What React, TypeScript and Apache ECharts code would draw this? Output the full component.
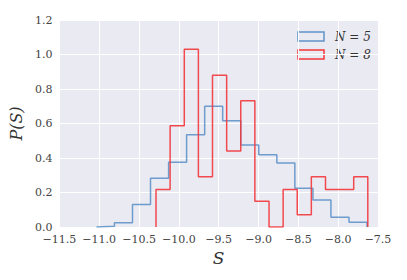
import React, { useEffect, useRef } from "react";
import * as echarts from "echarts";

// Histogram N = 5 (bin edges and densities)
const edgesN5 = [-11.035, -10.809, -10.582, -10.356, -10.129, -9.903, -9.676, -9.45, -9.223, -8.997, -8.77, -8.544, -8.317, -8.091, -7.864, -7.638];
const valuesN5 = [0.004, 0.025, 0.13, 0.282, 0.375, 0.535, 0.70, 0.616, 0.475, 0.419, 0.371, 0.224, 0.157, 0.056, 0.027];

// Histogram N = 8
const edgesN8 = [-10.287, -10.11, -9.932, -9.755, -9.578, -9.4, -9.223, -9.046, -8.868, -8.691, -8.514, -8.337, -8.159, -7.982, -7.805, -7.628];
const valuesN8 = [0.218, 0.587, 1.03, 0.292, 0.879, 0.44, 0.732, 0.149, 0.0, 0.218, 0.071, 0.292, 0.218, 0.218, 0.292];

const seriesNames = ["N = 5", "N = 8"];
const colors = ["#5f93c9", "#f2373c"];

const xTicks = { min: -11.5, max: -7.5, interval: 0.5 };
const yTicks = { min: 0, max: 1.2, interval: 0.2 };

function stepOutline(edges: number[], values: number[]): number[][] {
  const pts: number[][] = [[edges[0], 0]];
  for (let i = 0; i < values.length; i++) {
    pts.push([edges[i], values[i]]);
    pts.push([edges[i + 1], values[i]]);
  }
  pts.push([edges[edges.length - 1], 0]);
  return pts;
}

const FONT = "DejaVu Serif";

export default function App() {
  const ref = useRef<HTMLDivElement>(null);
  useEffect(() => {
    document.body.style.margin = "0";
    if (!ref.current) return;
    const chart = echarts.init(ref.current, undefined, { renderer: "svg" });
    const fmt = (v: number) => {
      const s = Math.abs(v).toFixed(1);
      return v < 0 ? "\u2212" + s : s;
    };
    chart.setOption({
      animation: false,
      backgroundColor: "#ffffff",
      textStyle: { fontFamily: FONT },
      grid: {
        left: 57,
        right: 29,
        top: 20,
        bottom: 53,
        show: true,
        backgroundColor: "#EAEAF2",
        borderWidth: 0,
      },
      xAxis: {
        type: "value",
        min: xTicks.min,
        max: xTicks.max,
        interval: xTicks.interval,
        axisLine: { show: false },
        axisTick: { show: false },
        splitLine: { show: true, lineStyle: { color: "#ffffff", width: 1 } },
        axisLabel: {
          formatter: fmt,
          color: "#444",
          fontFamily: FONT,
          fontSize: 11,
          margin: 7,
          showMinLabel: true,
          showMaxLabel: true,
        },
        name: "S",
        nameLocation: "middle",
        nameGap: 22,
        nameTextStyle: { fontFamily: FONT, fontStyle: "italic", fontSize: 17, color: "#333" },
      },
      yAxis: {
        type: "value",
        min: yTicks.min,
        max: yTicks.max,
        interval: yTicks.interval,
        axisLine: { show: false },
        axisTick: { show: false },
        splitLine: { show: true, lineStyle: { color: "#ffffff", width: 1 } },
        axisLabel: {
          formatter: (v: number) => v.toFixed(1),
          color: "#444",
          fontFamily: FONT,
          fontSize: 11,
          margin: 7,
        },
        name: "P(S)",
        nameLocation: "middle",
        nameGap: 25,
        nameTextStyle: {
          fontFamily: FONT,
          fontStyle: "italic",
          fontSize: 16,
          color: "#333",
        },
      },
      graphic: [
        { type: "rect", shape: { x: 298, y: 32, width: 26, height: 9 }, style: { fill: "none", stroke: colors[0], lineWidth: 1.5 } },
        { type: "rect", shape: { x: 298, y: 50, width: 26, height: 9 }, style: { fill: "none", stroke: colors[1], lineWidth: 1.5 } },
        {
          type: "text",
          x: 335,
          y: 37,
          style: {
            text: "N = 5",
            font: "italic 12px DejaVu Serif",
            fill: "#333",
            verticalAlign: "middle",
          },
        },
        {
          type: "text",
          x: 335,
          y: 55,
          style: {
            text: "N = 8",
            font: "italic 12px DejaVu Serif",
            fill: "#333",
            verticalAlign: "middle",
          },
        },
      ],
      series: [
        {
          name: seriesNames[0],
          type: "line",
          data: stepOutline(edgesN5, valuesN5),
          showSymbol: false,
          lineStyle: { color: colors[0], width: 1.5, opacity: 0.9 },
          itemStyle: { color: colors[0] },
        },
        {
          name: seriesNames[1],
          type: "line",
          data: stepOutline(edgesN8, valuesN8),
          showSymbol: false,
          lineStyle: { color: colors[1], width: 1.5, opacity: 0.9 },
          itemStyle: { color: colors[1] },
        },
      ],
    });
    return () => chart.dispose();
  }, []);
  return <div ref={ref} style={{ width: 407, height: 280 }} />;
}
